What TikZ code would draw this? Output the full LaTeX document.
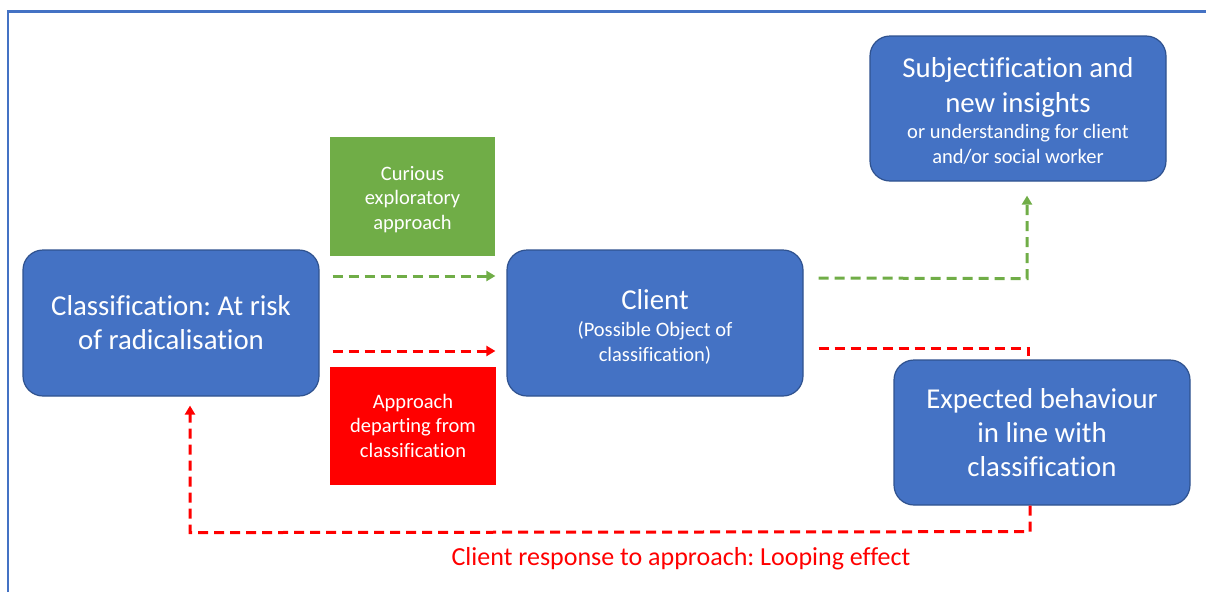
\documentclass[tikz,border=0pt]{standalone}
\usepackage{fontspec}
\setmainfont{Carlito}[Ligatures=NoCommon]
\frenchspacing
\usetikzlibrary{arrows.meta,calc}
\definecolor{boxblue}{HTML}{4472C4}
\definecolor{boxedge}{HTML}{2F528F}
\definecolor{okgreen}{HTML}{70AD47}
\definecolor{badred}{HTML}{FF0000}
\newcommand{\bigf}{\fontsize{28.8}{34}\selectfont}
\newcommand{\smallf}{\fontsize{20.5}{24.5}\selectfont}
\tikzset{
  bluebox/.style={draw=boxedge, line width=1.2pt, fill=boxblue, rounded corners=20pt,
    text=white, align=center, minimum width=296pt, minimum height=146pt, inner sep=0pt},
  flatbox/.style={text=white, align=center, inner sep=0pt},
  boxtext/.style={text=white, align=center, inner sep=0pt},
  big/.style={font=\bigf},
  small/.style={font=\smallf},
  gdash/.style={draw=okgreen, line width=3pt, dash pattern=on 10pt off 6pt},
  rdash/.style={draw=badred, line width=3pt, dash pattern=on 10pt off 6pt},
  tipg/.style={-{Triangle[length=9pt,width=10pt]}},
}
\begin{document}
\begin{tikzpicture}[x=1pt,y=-1pt]
\useasboundingbox (0,0) rectangle (1206,592);
\draw[boxblue, line width=2.2pt] (8,592) -- (8,11.5) -- (1207,11.5);

\node[bluebox, big] (cls) at (171,323) {Classification: At risk\\of radicalisation};
\node[bluebox] (client) at (655,323) {};
\node[boxtext, small] (clienttext) at ($(client.center)+(0,3.5)$) {\bigf Client\\[3pt]\smallf (Possible Object of\\\smallf classification)};
\node[bluebox, minimum height=145pt] (subj) at (1018,108.5) {};
\node[boxtext, small] (subjtext) at ($(subj.center)+(0,2)$) {\bigf Subjectification and\\[9pt]\bigf new insights\\[2pt]\smallf or understanding for client\\\smallf and/or social worker};
\node[flatbox, fill=okgreen, minimum width=165pt, minimum height=119pt] (green) at (412.5,196.5) {};
\node[boxtext, small] (greentext) at ($(green.center)+(0,3)$) {Curious\\exploratory\\approach};
\node[flatbox, small, fill=badred, minimum width=166pt, minimum height=118pt] (red) at (413,425.5) {Approach\\departing from\\classification};

% arrows from classification to client
\draw[gdash, tipg] ($(cls.east)+(13,-47)$) -- ($(client.west)+(-11,-47)$);
\draw[rdash, tipg] ($(cls.east)+(13,28)$) -- ($(client.west)+(-11,28)$);

% client to subjectification
\draw[gdash, tipg] ($(client.east)+(15,-45)$) -- ($(subj.south)+(9,97)$) -- ($(subj.south)+(9,14)$);

% client to expected behaviour
\coordinate (rc) at ($(client.east)+(15,25)$);
\coordinate (rtop) at ($(client.east)+(225,25)$);
\draw[rdash] (rc) -- (rtop) -- ++(0,14);
\node[bluebox, big, minimum height=145pt] (exp) at (1042,432.5) {Expected behaviour\\in line with\\classification};

% looping back
\draw[rdash, tipg] ($(exp.south)+(-12,0)$) -- ($(exp.south)+(-12,26)$) -- ($(cls.south)+(19,136)$) -- ($(cls.south)+(19,9)$);

\node[text=badred, font=\fontsize{26}{30}\selectfont, inner sep=0pt] (loop) at (681,559) {Client response to approach: Looping effect};
\end{tikzpicture}
\end{document}
